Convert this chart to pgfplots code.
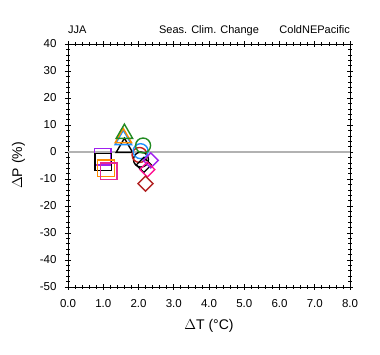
\documentclass[border=0pt]{standalone}
\usepackage{pgfplots}
\pgfplotsset{compat=1.18}
\usepackage{fontspec}
\setmainfont{Liberation Sans}
\definecolor{cpurple}{RGB}{160,32,240}
\definecolor{corange}{RGB}{255,140,0}
\definecolor{cpink}{RGB}{230,40,150}
\definecolor{cgreen}{RGB}{34,139,34}
\definecolor{cblue}{RGB}{30,144,255}
\definecolor{cred}{RGB}{200,30,30}
\definecolor{cdpink}{RGB}{255,20,147}
\definecolor{cdred}{RGB}{178,34,34}
\pgfplotsset{pt/.style={only marks, line width=1.4pt, mark options={solid, fill=none}}}
\begin{document}
\begin{tikzpicture}
\path[use as bounding box] (-68pt,-68pt) rectangle (312pt,287pt);
\begin{axis}[
  at={(0pt,0pt)}, anchor=south west,
  scale only axis, width=282pt, height=243pt,
  xmin=0, xmax=8, ymin=-50, ymax=40,
  xtick={0,1,...,8}, ytick={-50,-40,...,40},
  minor x tick num=4, minor y tick num=4,
  tick align=center,
  major tick length=6pt, minor tick length=3.5pt,
  every tick/.style={black, line width=0.6pt},
  axis line style={line width=0.8pt},
  x tick label style={/pgf/number format/fixed, /pgf/number format/fixed zerofill, /pgf/number format/precision=1, /pgf/number format/assume math mode=true, yshift=-6pt},
  y tick label style={/pgf/number format/assume math mode=true, xshift=-5pt},
  ticklabel style={font=\fontsize{11.5}{13}\selectfont},
  xlabel={$\Delta$T (°C)}, ylabel={$\Delta$P (\%)},
  label style={font=\fontsize{14}{16}\selectfont},
  xlabel style={yshift=-5pt},
  ylabel style={yshift=8pt},
  clip=false,
]
\addplot[gray!60, line width=1.2pt, no marks] coordinates {(0,0) (8,0)};
% squares
\addplot[pt, mark=square, mark size=8.3pt, cpurple] coordinates {(0.98,-1.7)};
\addplot[pt, mark=square, mark size=8.3pt, black] coordinates {(1.0,-3.7)};
\addplot[pt, mark=square, mark size=8.3pt, corange] coordinates {(1.08,-6.0)};
\addplot[pt, mark=square, mark size=8.3pt, cpink] coordinates {(1.15,-7.2)};
% triangles
\addplot[pt, mark=triangle, mark size=9.5pt, black] coordinates {(1.6,1.6)};
\addplot[pt, mark=triangle, mark size=9.5pt, cblue] coordinates {(1.57,4.5)};
\addplot[pt, mark=triangle, mark size=9.5pt, corange] coordinates {(1.57,5.2)};
\addplot[pt, mark=triangle, mark size=9.5pt, cgreen] coordinates {(1.6,6.8)};
% circles
\addplot[pt, mark=o, mark size=7.5pt, black] coordinates {(2.07,-2.8)};
\addplot[pt, mark=o, mark size=7.5pt, cred] coordinates {(2.03,-1.1)};
\addplot[pt, mark=o, mark size=7.5pt, cblue] coordinates {(2.06,0.3)};
\addplot[pt, mark=o, mark size=7.5pt, cgreen] coordinates {(2.13,2.4)};
% diamonds
\addplot[pt, mark=square, mark size=5.3pt, mark options={rotate=45}, black] coordinates {(2.15,-4.8)};
\addplot[pt, mark=square, mark size=5.3pt, mark options={rotate=45}, cpurple] coordinates {(2.35,-3.1)};
\addplot[pt, mark=square, mark size=5.3pt, mark options={rotate=45}, cdpink] coordinates {(2.25,-6.5)};
\addplot[pt, mark=square, mark size=5.3pt, mark options={rotate=45}, cdred] coordinates {(2.2,-11.7)};
\node[anchor=base west, font=\fontsize{11}{13}\selectfont, inner sep=0pt] at ([yshift=11pt]rel axis cs:0,1) {JJA};
\node[anchor=base, font=\fontsize{11}{13}\selectfont, inner sep=0pt] at ([yshift=11pt]rel axis cs:0.5,1) {Seas. Clim. Change};
\node[anchor=base east, font=\fontsize{11}{13}\selectfont, inner sep=0pt] at ([yshift=11pt]rel axis cs:1,1) {ColdNEPacific};
\end{axis}
\end{tikzpicture}
\end{document}
